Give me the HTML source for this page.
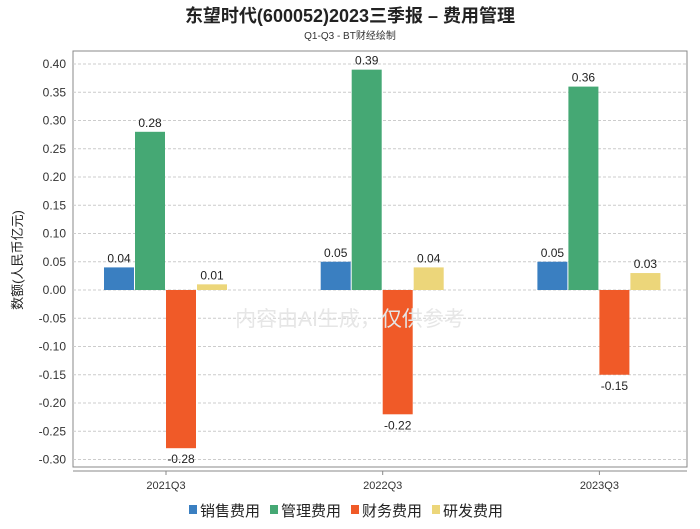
<!DOCTYPE html>
<html><head><meta charset="utf-8"><style>
body{margin:0;background:#fff;font-family:"Liberation Sans","Noto Sans CJK SC",sans-serif}
svg text{font-family:"Liberation Sans","Noto Sans CJK SC",sans-serif}
</style></head><body>
<svg width="700" height="524" xmlns="http://www.w3.org/2000/svg" id="chart">
<text x="350" y="22" text-anchor="middle" font-size="18" font-weight="bold" fill="#222">东望时代(600052)2023三季报 – 费用管理</text>
<text x="350" y="39" text-anchor="middle" font-size="10" fill="#333">Q1-Q3 - BT财经绘制</text>
<rect x="73" y="51" width="614" height="416" fill="none" stroke="#888"/>
<line x1="73" y1="471" x2="687" y2="471" stroke="#888"/>
<g id="grid"></g><g id="bars"></g>
<text x="350" y="326" text-anchor="middle" font-size="21" fill="#e6e6e6">内容由AI生成，仅供参考</text>
<text transform="translate(22,260) rotate(-90)" text-anchor="middle" font-size="13" fill="#222">数额(人民币亿元)</text>
<g id="legend"></g>
</svg>
<script>
const categories=["2021Q3","2022Q3","2023Q3"];
const seriesNames=["销售费用","管理费用","财务费用","研发费用"];
const colors=["#3a7fc1","#45a874","#f05a28","#ecd67a"];
const sales=[0.04,0.05,0.05];
const admin=[0.28,0.39,0.36];
const finance=[-0.28,-0.22,-0.15];
const rd=[0.01,0.04,0.03];
const ticks=[0.40,0.35,0.30,0.25,0.20,0.15,0.10,0.05,0.00,-0.05,-0.10,-0.15,-0.20,-0.25,-0.30];
const series=[sales,admin,finance,rd];
const NS="http://www.w3.org/2000/svg";
const y=v=>290-v*565;
const xc=i=>166+i*216.7;
function mk(t,a,p){const e=document.createElementNS(NS,t);for(const k in a)e.setAttribute(k,a[k]);p.appendChild(e);return e;}
const g=document.getElementById('grid'),b=document.getElementById('bars'),lg=document.getElementById('legend');
ticks.forEach(t=>{
 const l=mk('line',{x1:73,x2:687,y1:y(t),y2:y(t),stroke:'#ccc','stroke-dasharray':'3,2'},g);
 
 
 const tx=mk('text',{x:66,y:y(t)+4,'text-anchor':'end','font-size':12,fill:'#333'},g);
 tx.textContent=t.toFixed(2);
 
 
});
categories.forEach((c,i)=>{
 const tx=mk('text',{x:xc(i),y:489,'text-anchor':'middle','font-size':11,fill:'#333'},g);
 tx.textContent=c;
 
 
 mk('line',{x1:xc(i),x2:xc(i),y1:471,y2:475,stroke:'#888'},g);
 series.forEach((s,j)=>{
  const v=s[i],x0=xc(i)-62+j*31;
  const r=mk('rect',{x:x0,y:Math.min(y(v),y(0)),width:30,height:Math.abs(y(v)-y(0)),fill:colors[j]},b);
  
  
  const lt=mk('text',{x:x0+15,y:v>=0?y(v)-5:y(v)+15,'text-anchor':'middle','font-size':12,fill:'#222'},b);
  lt.textContent=v.toFixed(2);
  
  
 });
});
let lx=189;
seriesNames.forEach((n,j)=>{
 const r=mk('rect',{x:lx,y:505,width:8,height:9,fill:colors[j]},lg);
 
 
 const t=mk('text',{x:lx+11,y:516,'font-size':15,fill:'#222'},lg);
 t.textContent=n;
 
 
 lx+=81;
});
</script>
</body></html>
